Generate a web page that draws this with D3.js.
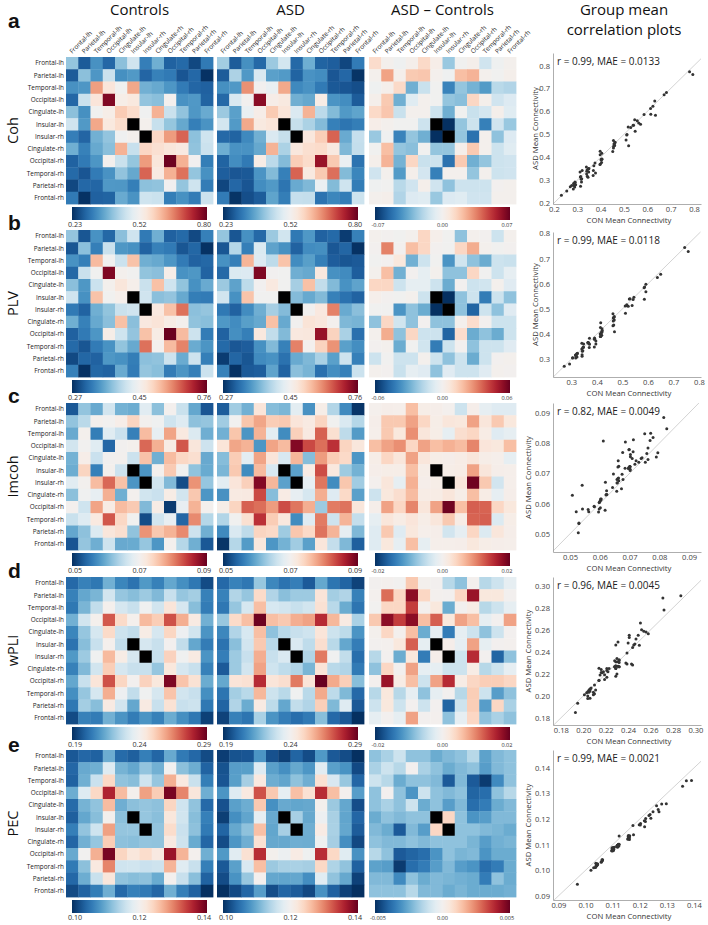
<!DOCTYPE html>
<html>
<head>
<meta charset="utf-8">
<script src="https://cdn.jsdelivr.net/npm/d3@7"></script>
<style>
  body { margin: 0; background: #fff; }
  svg { font-family: 'Open Sans', 'DejaVu Sans', sans-serif; }
</style>
</head>
<body>
<svg id="fig" width="708" height="925"></svg>
<script>
// lobe order used for both rows and columns
const regions = ['Frontal-lh', 'Parietal-lh', 'Temporal-lh', 'Occipital-lh', 'Cingulate-lh', 'Insular-lh',
                 'Insular-rh', 'Cingulate-rh', 'Occipital-rh', 'Temporal-rh', 'Parietal-rh', 'Frontal-rh'];
const groups = ['Controls', 'ASD', 'ASD \u2013 Controls'];

// matrices are symmetric: each row i holds columns i..11 (upper triangle), null = no value (black)
// Controls group mean, and ASD - Controls difference; ASD = Controls + difference
const cohCon = [
  [0.405, 0.276, 0.341, 0.290, 0.398, 0.462, 0.318, 0.376, 0.284, 0.293, 0.255, 0.313],
  [0.398, 0.347, 0.455, 0.339, 0.350, 0.288, 0.321, 0.312, 0.270, 0.291, 0.232],
  [0.632, 0.548, 0.512, 0.624, 0.378, 0.369, 0.346, 0.314, 0.289, 0.283],
  [0.781, 0.529, 0.541, 0.404, 0.397, 0.518, 0.342, 0.349, 0.286],
  [0.586, 0.563, 0.509, 0.614, 0.455, 0.403, 0.348, 0.371],
  [null, 0.520, 0.452, 0.406, 0.368, 0.319, 0.343],
  [null, 0.571, 0.635, 0.682, 0.399, 0.460],
  [0.557, 0.546, 0.539, 0.402, 0.456],
  [0.795, 0.615, 0.513, 0.317],
  [0.672, 0.405, 0.340],
  [0.460, 0.315],
  [0.457]
];
const cohDiff = [
  [0.012, 0.001, -0.002, 0.002, 0.013, 0.003, -0.026, -0.001, 0.002, -0.013, -0.002, 0.001],
  [0.028, 0.002, 0.018, 0.019, 0.001, -0.002, 0.021, 0.024, 0.001, -0.001, 0.002],
  [0.013, -0.034, -0.015, -0.001, -0.047, -0.027, -0.033, -0.040, -0.019, -0.021],
  [-0.008, 0.001, -0.001, -0.027, -0.029, 0.014, 0.002, -0.013, -0.009],
  [0.001, -0.014, -0.034, -0.001, -0.015, -0.012, 0.002, -0.008],
  [null, -0.070, -0.027, -0.014, -0.048, -0.013, -0.026],
  [null, -0.027, -0.052, 0.001, -0.028, -0.009],
  [0.002, 0.018, 0.001, -0.014, -0.008],
  [-0.034, -0.027, -0.014, -0.013],
  [0.001, -0.014, -0.013],
  [0.000, 0.001],
  [0.001]
];

const plvCon = [
  [0.420, 0.305, 0.366, 0.322, 0.414, 0.468, 0.341, 0.396, 0.316, 0.324, 0.293, 0.347],
  [0.415, 0.346, 0.463, 0.371, 0.365, 0.318, 0.348, 0.341, 0.305, 0.321, 0.272],
  [0.592, 0.512, 0.464, 0.585, 0.396, 0.390, 0.370, 0.342, 0.317, 0.322],
  [0.744, 0.518, 0.511, 0.419, 0.414, 0.527, 0.366, 0.371, 0.318],
  [0.542, 0.523, 0.463, 0.587, 0.468, 0.419, 0.365, 0.391],
  [null, 0.469, 0.414, 0.420, 0.390, 0.345, 0.342],
  [null, 0.538, 0.586, 0.650, 0.415, 0.421],
  [0.545, 0.530, 0.517, 0.418, 0.413],
  [0.758, 0.592, 0.466, 0.343],
  [0.637, 0.392, 0.369],
  [0.467, 0.346],
  [0.464]
];
const plvDiff = [
  [0.001, 0.000, -0.001, 0.001, 0.012, 0.002, -0.001, -0.024, 0.001, 0.000, -0.012, 0.001],
  [0.030, 0.000, 0.018, 0.012, 0.000, -0.001, 0.012, 0.022, 0.001, -0.001, 0.000],
  [0.006, -0.029, -0.012, -0.001, -0.036, -0.011, -0.024, -0.030, -0.012, -0.013],
  [0.000, -0.005, 0.001, -0.024, -0.024, 0.012, -0.001, -0.012, -0.005],
  [-0.005, -0.012, -0.030, 0.000, -0.012, -0.011, 0.001, -0.007],
  [null, -0.060, -0.024, -0.012, -0.042, -0.012, -0.024],
  [null, -0.024, -0.048, -0.012, -0.024, -0.007],
  [0.001, 0.010, 0.000, -0.012, -0.012],
  [-0.030, -0.024, -0.030, -0.012],
  [-0.012, -0.012, -0.007],
  [0.000, 0.001],
  [0.000]
];

const imcohCon = [
  [0.0530, 0.0622, 0.0598, 0.0664, 0.0605, 0.0601, 0.0678, 0.0618, 0.0702, 0.0657, 0.0596, 0.0528],
  [0.0646, 0.0703, 0.0698, 0.0709, 0.0742, 0.0701, 0.0696, 0.0662, 0.0675, 0.0619, 0.0623],
  [0.0561, 0.0677, 0.0658, 0.0563, 0.0762, 0.0685, 0.0779, 0.0718, 0.0673, 0.0602],
  [0.0542, 0.0699, 0.0703, 0.0815, 0.0771, 0.0713, 0.0825, 0.0722, 0.0661],
  [0.0701, 0.0659, 0.0758, 0.0603, 0.0762, 0.0739, 0.0731, 0.0598],
  [null, 0.0581, 0.0702, 0.0751, 0.0697, 0.0621, 0.0599],
  [null, 0.0663, 0.0612, 0.0521, 0.0790, 0.0624],
  [0.0658, 0.0712, 0.0664, 0.0753, 0.0582],
  [0.0508, 0.0686, 0.0769, 0.0702],
  [0.0541, 0.0795, 0.0643],
  [0.0661, 0.0603],
  [0.0530]
];
const imcohDiff = [
  [0.0004, 0.0008, 0.0006, 0.0060, 0.0010, 0.0008, 0.0002, -0.0040, 0.0008, -0.0016, -0.0024, -0.0024],
  [0.0052, 0.0052, 0.0080, 0.0040, 0.0010, 0.0022, 0.0020, 0.0080, 0.0022, 0.0052, 0.0020],
  [0.0020, 0.0092, 0.0022, 0.0010, -0.0016, 0.0032, 0.0040, 0.0012, -0.0024, -0.0016],
  [0.0040, 0.0080, 0.0060, 0.0070, 0.0062, 0.0098, 0.0023, 0.0020, 0.0060],
  [0.0022, 0.0010, 0.0008, 0.0012, 0.0022, 0.0010, 0.0006, -0.0016],
  [null, 0.0010, 0.0012, 0.0080, 0.0022, 0.0008, 0.0006],
  [null, 0.0022, 0.0195, 0.0052, -0.0036, 0.0006],
  [0.0010, 0.0060, 0.0012, -0.0016, 0.0008],
  [0.0120, 0.0118, 0.0040, 0.0020],
  [0.0120, -0.0027, 0.0010],
  [0.0022, 0.0008],
  [0.0006]
];

const wpliCon = [
  [0.201, 0.206, 0.204, 0.216, 0.207, 0.203, 0.211, 0.206, 0.214, 0.209, 0.204, 0.195],
  [0.214, 0.217, 0.231, 0.221, 0.219, 0.222, 0.218, 0.229, 0.221, 0.223, 0.206],
  [0.228, 0.241, 0.232, 0.229, 0.239, 0.231, 0.246, 0.232, 0.219, 0.205],
  [0.271, 0.249, 0.241, 0.256, 0.252, 0.272, 0.258, 0.244, 0.216],
  [0.230, 0.228, 0.243, 0.232, 0.250, 0.238, 0.231, 0.210],
  [null, 0.232, 0.229, 0.240, 0.228, 0.214, 0.205],
  [null, 0.229, 0.251, 0.239, 0.244, 0.210],
  [0.221, 0.245, 0.232, 0.229, 0.206],
  [0.287, 0.254, 0.247, 0.215],
  [0.231, 0.229, 0.209],
  [0.230, 0.204],
  [0.193]
];
const wpliDiff = [
  [0.0000, 0.0002, -0.0002, 0.0052, 0.0003, 0.0000, -0.0056, -0.0080, 0.0002, -0.0056, -0.0040, -0.0016],
  [0.0112, 0.0040, 0.0180, 0.0040, 0.0002, 0.0000, 0.0040, 0.0172, 0.0020, 0.0020, 0.0000],
  [0.0040, 0.0140, 0.0002, 0.0020, -0.0100, 0.0000, 0.0012, -0.0056, -0.0040, -0.0016],
  [0.0180, 0.0060, 0.0120, 0.0020, 0.0080, 0.0060, -0.0016, 0.0000, 0.0080],
  [-0.0100, -0.0016, -0.0140, -0.0016, -0.0040, -0.0080, -0.0040, 0.0000],
  [null, 0.0008, -0.0016, 0.0080, -0.0016, 0.0000, 0.0002],
  [null, -0.0040, 0.0152, 0.0000, -0.0160, -0.0080],
  [-0.0040, 0.0012, -0.0056, -0.0040, -0.0016],
  [0.0040, 0.0048, 0.0048, 0.0040],
  [-0.0040, -0.0112, -0.0080],
  [0.0040, -0.0064],
  [-0.0080]
];

const pecCon = [
  [0.1030, 0.1042, 0.1038, 0.1101, 0.1045, 0.1036, 0.1062, 0.1041, 0.1098, 0.1058, 0.1043, 0.1020],
  [0.1098, 0.1103, 0.1175, 0.1106, 0.1096, 0.1122, 0.1104, 0.1198, 0.1118, 0.1101, 0.1039],
  [0.1158, 0.1238, 0.1121, 0.1116, 0.1162, 0.1124, 0.1271, 0.1218, 0.1157, 0.1061],
  [0.1358, 0.1262, 0.1203, 0.1281, 0.1249, 0.1391, 0.1298, 0.1222, 0.1102],
  [0.1102, 0.1118, 0.1123, 0.1119, 0.1241, 0.1162, 0.1121, 0.1044],
  [null, 0.1124, 0.1117, 0.1221, 0.1163, 0.1116, 0.1063],
  [null, 0.1122, 0.1234, 0.1158, 0.1119, 0.1058],
  [0.1121, 0.1217, 0.1161, 0.1099, 0.1041],
  [0.1372, 0.1268, 0.1202, 0.1103],
  [0.1177, 0.1156, 0.1062],
  [0.1117, 0.1038],
  [0.0970]
];
const pecDiff = [
  [-0.0020, -0.0016, -0.0010, -0.0020, -0.0020, -0.0025, -0.0022, -0.0020, -0.0014, -0.0027, -0.0022, -0.0020],
  [-0.0010, -0.0014, 0.0000, -0.0016, -0.0020, -0.0025, -0.0022, -0.0020, -0.0028, -0.0022, -0.0020],
  [-0.0025, -0.0020, -0.0020, -0.0022, -0.0042, -0.0022, -0.0042, -0.0048, -0.0032, -0.0020],
  [-0.0030, -0.0010, -0.0020, -0.0022, -0.0020, -0.0040, -0.0038, -0.0020, -0.0014],
  [-0.0025, -0.0020, -0.0028, -0.0022, -0.0038, -0.0035, -0.0025, -0.0022],
  [null, 0.0010, -0.0020, -0.0030, -0.0028, -0.0022, -0.0022],
  [null, -0.0020, -0.0020, -0.0022, -0.0023, -0.0025],
  [-0.0020, -0.0023, -0.0028, -0.0024, -0.0023],
  [-0.0022, -0.0030, -0.0025, -0.0025],
  [-0.0038, -0.0035, -0.0025],
  [-0.0020, -0.0025],
  [-0.0024]
];

// colorbar tick labels (first and last give the colour range)
const cohConLabels = ['0.23', '0.52', '0.80'],   cohDiffLabels = ['-0.07', '0.00', '0.07'];
const plvConLabels = ['0.27', '0.45', '0.76'],   plvDiffLabels = ['-0.06', '0.00', '0.06'];
const imcohConLabels = ['0.05', '0.07', '0.09'], imcohDiffLabels = ['-0.02', '0.00', '0.02'];
const wpliConLabels = ['0.19', '0.24', '0.29'],  wpliDiffLabels = ['-0.02', '0.00', '0.02'];
const pecConLabels = ['0.10', '0.12', '0.14'],   pecDiffLabels = ['-0.005', '0.00', '0.005'];

// scatter axes
const cohTicks = [0.2, 0.3, 0.4, 0.5, 0.6, 0.7, 0.8];
const plvTicks = [0.3, 0.4, 0.5, 0.6, 0.7, 0.8];
const imcohTicks = [0.05, 0.06, 0.07, 0.08, 0.09];
const wpliTicks = [0.18, 0.20, 0.22, 0.24, 0.26, 0.28, 0.30];
const pecTicks = [0.09, 0.10, 0.11, 0.12, 0.13, 0.14];
const cohXLim = [0.196, 0.83],    cohYLim = [0.196, 0.855];
const plvXLim = [0.228, 0.808],   plvYLim = [0.229, 0.806];
const imcohXLim = [0.0443, 0.094], imcohYLim = [0.044, 0.0933];
const wpliXLim = [0.173, 0.305],  wpliYLim = [0.1736, 0.308];
const pecXLim = [0.088, 0.1426],  pecYLim = [0.0884, 0.147];
const stats = ['r = 0.99, MAE = 0.0133', 'r = 0.99, MAE = 0.0118', 'r = 0.82, MAE = 0.0049',
               'r = 0.96, MAE = 0.0045', 'r = 0.99, MAE = 0.0021'];

const measures = ['Coh', 'PLV', 'Imcoh', 'wPLI', 'PEC'];
const letters = ['a', 'b', 'c', 'd', 'e'];

const rows = [
  {con: cohCon, diff: cohDiff, conLabels: cohConLabels, diffLabels: cohDiffLabels, ticks: cohTicks, fmt: '.1f', xLim: cohXLim, yLim: cohYLim},
  {con: plvCon, diff: plvDiff, conLabels: plvConLabels, diffLabels: plvDiffLabels, ticks: plvTicks, fmt: '.1f', xLim: plvXLim, yLim: plvYLim},
  {con: imcohCon, diff: imcohDiff, conLabels: imcohConLabels, diffLabels: imcohDiffLabels, ticks: imcohTicks, fmt: '.2f', xLim: imcohXLim, yLim: imcohYLim},
  {con: wpliCon, diff: wpliDiff, conLabels: wpliConLabels, diffLabels: wpliDiffLabels, ticks: wpliTicks, fmt: '.2f', xLim: wpliXLim, yLim: wpliYLim},
  {con: pecCon, diff: pecDiff, conLabels: pecConLabels, diffLabels: pecDiffLabels, ticks: pecTicks, fmt: '.2f', xLim: pecXLim, yLim: pecYLim}
];

// layout
const hmX = [66, 217, 369];
const hmSize = 147;
const rowTop = [57, 230, 403, 577, 750];
const letterY = [28, 230, 403, 578, 752];
const scatterBox = [[53, 204], [232, 377], [403, 552], [577, 725], [750, 900]];
const scatterX = [553, 701];

const svg = d3.select('#fig');
const rdbu = t => d3.interpolateRdBu(1 - t);

// one gradient shared by every colorbar
const grad = svg.append('defs').append('linearGradient').attr('id', 'rdbu');
d3.range(0, 1.0001, 0.05).forEach(t => {
  grad.append('stop').attr('offset', t).attr('stop-color', rdbu(t));
});

function full(tri) {
  const n = tri.length;
  const m = d3.range(n).map(() => new Array(n).fill(null));
  tri.forEach((row, i) => row.forEach((v, k) => { m[i][i + k] = v; m[i + k][i] = v; }));
  return m;
}

function heatmap(g, x0, y0, mat, domain) {
  const x = d3.scaleBand().domain(regions).range([x0, x0 + hmSize]);
  const y = d3.scaleBand().domain(regions).range([y0, y0 + hmSize]);
  const color = d3.scaleSequential(rdbu).domain(domain).clamp(true);
  const cells = [];
  mat.forEach((row, i) => row.forEach((v, j) => cells.push({r: regions[i], c: regions[j], v: v})));
  g.selectAll(null).data(cells).join('rect')
    .attr('x', d => x(d.c))
    .attr('y', d => y(d.r))
    .attr('width', x.bandwidth() + 0.4)
    .attr('height', y.bandwidth() + 0.4)
    .attr('fill', d => d.v == null ? '#000' : color(d.v));
  return {x, y};
}

function colorbar(g, x0, y0, labels, small) {
  const bx0 = x0 + 6, bx1 = x0 + hmSize - 6;
  g.append('rect')
    .attr('x', bx0).attr('y', y0)
    .attr('width', bx1 - bx0).attr('height', 13)
    .attr('fill', 'url(#rdbu)');
  const pos = d3.scalePoint().domain(labels).range([bx0 + 3, bx1 - 3]);
  g.selectAll(null).data(labels).join('text')
    .attr('x', d => pos(d))
    .attr('y', y0 + 20)
    .attr('text-anchor', 'middle')
    .attr('font-size', small ? 5.6 : 7.2)
    .attr('fill', '#333')
    .text(d => d);
}

function scatter(k, row, con, asd) {
  const [top, bottom] = scatterBox[k];
  const g = svg.append('g');
  const x = d3.scaleLinear().domain(row.xLim).range(scatterX);
  const y = d3.scaleLinear().domain(row.yLim).range([bottom, top]);

  const lo = Math.max(row.xLim[0], row.yLim[0]);
  const hi = Math.min(row.xLim[1], row.yLim[1]);
  g.append('line')
    .attr('x1', x(lo)).attr('y1', y(lo))
    .attr('x2', x(hi)).attr('y2', y(hi))
    .attr('stroke', '#c8c8c8').attr('stroke-width', 0.8);

  const pts = [];
  con.forEach((r, i) => r.forEach((v, j) => {
    if (j >= i && v != null) pts.push({x: v, y: asd[i][j]});
  }));
  g.selectAll(null).data(pts).join('circle')
    .attr('cx', d => x(d.x))
    .attr('cy', d => y(d.y))
    .attr('r', 1.5)
    .attr('fill', '#333');

  const fmt = d3.format(row.fmt);
  const xa = g.append('g').attr('transform', `translate(0,${bottom})`)
    .call(d3.axisBottom(x).tickValues(row.ticks).tickFormat(fmt).tickSize(0).tickPadding(3));
  const ya = g.append('g').attr('transform', `translate(${scatterX[0]},0)`)
    .call(d3.axisLeft(y).tickValues(row.ticks).tickFormat(fmt).tickSize(0).tickPadding(3));
  [xa, ya].forEach(a => {
    a.select('.domain').attr('stroke', '#999').attr('stroke-width', 0.8);
    a.selectAll('text').attr('font-size', 7.6).attr('fill', '#444')
      .attr('font-family', "'Open Sans', sans-serif");
  });

  // y label sits further left when tick labels have two decimals
  const yLabelX = row.fmt === '.1f' ? 538 : 531;
  g.append('text')
    .attr('x', (scatterX[0] + scatterX[1]) / 2 + 2)
    .attr('y', bottom + 19)
    .attr('text-anchor', 'middle')
    .attr('font-size', 7.7).attr('fill', '#333')
    .text('CON Mean Connectivity');
  g.append('text')
    .attr('transform', `translate(${yLabelX},${(top + bottom) / 2}) rotate(-90)`)
    .attr('text-anchor', 'middle')
    .attr('font-size', 7.7).attr('fill', '#333')
    .text('ASD Mean Connectivity');
  g.append('text')
    .attr('x', 557).attr('y', top + 12)
    .attr('font-size', 10).attr('fill', '#222')
    .text(stats[k]);
}

// column titles
const titleX = hmX.map(x => x + hmSize / 2);
svg.selectAll(null).data(groups).join('text')
  .attr('x', (d, i) => titleX[i])
  .attr('y', 15)
  .attr('text-anchor', 'middle')
  .attr('font-size', 15).attr('fill', '#111')
  .text(d => d);
svg.selectAll(null).data(['Group mean', 'correlation plots']).join('text')
  .attr('x', 624)
  .attr('y', (d, i) => 15 + i * 20)
  .attr('text-anchor', 'middle')
  .attr('font-size', 15).attr('fill', '#111')
  .text(d => d);

rows.forEach((row, k) => {
  const top = rowTop[k];
  const con = full(row.con);
  const diff = full(row.diff);
  const asd = con.map((r, i) => r.map((v, j) => v == null ? null : v + diff[i][j]));
  const conDomain = [+row.conLabels[0], +row.conLabels[2]];
  const diffDomain = [+row.diffLabels[0], +row.diffLabels[2]];
  const mats = [con, asd, diff];
  const domains = [conDomain, conDomain, diffDomain];
  const labels = [row.conLabels, row.conLabels, row.diffLabels];

  mats.forEach((m, p) => {
    const g = svg.append('g');
    const {x, y} = heatmap(g, hmX[p], top, m, domains[p]);
    colorbar(g, hmX[p], top + hmSize + 3, labels[p], p === 2);

    if (p === 0) {
      g.selectAll(null).data(regions).join('text')
        .attr('x', hmX[0] - 2)
        .attr('y', d => y(d) + y.bandwidth() / 2)
        .attr('dy', '0.35em')
        .attr('text-anchor', 'end')
        .attr('font-size', 6.4).attr('fill', '#222')
        .text(d => d);
    }
    if (k === 0) {
      g.selectAll(null).data(regions).join('text')
        .attr('transform', d => `translate(${x(d) + x.bandwidth() / 2},${top - 3}) rotate(-45)`)
        .attr('font-size', 6.4).attr('fill', '#222')
        .text(d => d);
    }
  });

  scatter(k, row, con, asd);

  svg.append('text')
    .attr('transform', `translate(18,${top + hmSize / 2}) rotate(-90)`)
    .attr('text-anchor', 'middle')
    .attr('font-size', 14.5).attr('fill', '#111')
    .text(measures[k]);
  svg.append('text')
    .attr('x', 8).attr('y', letterY[k])
    .attr('font-family', "'Liberation Sans', Arial, sans-serif")
    .attr('font-weight', 'bold')
    .attr('font-size', 21).attr('fill', '#111')
    .text(letters[k]);
});
</script>
</body>
</html>
